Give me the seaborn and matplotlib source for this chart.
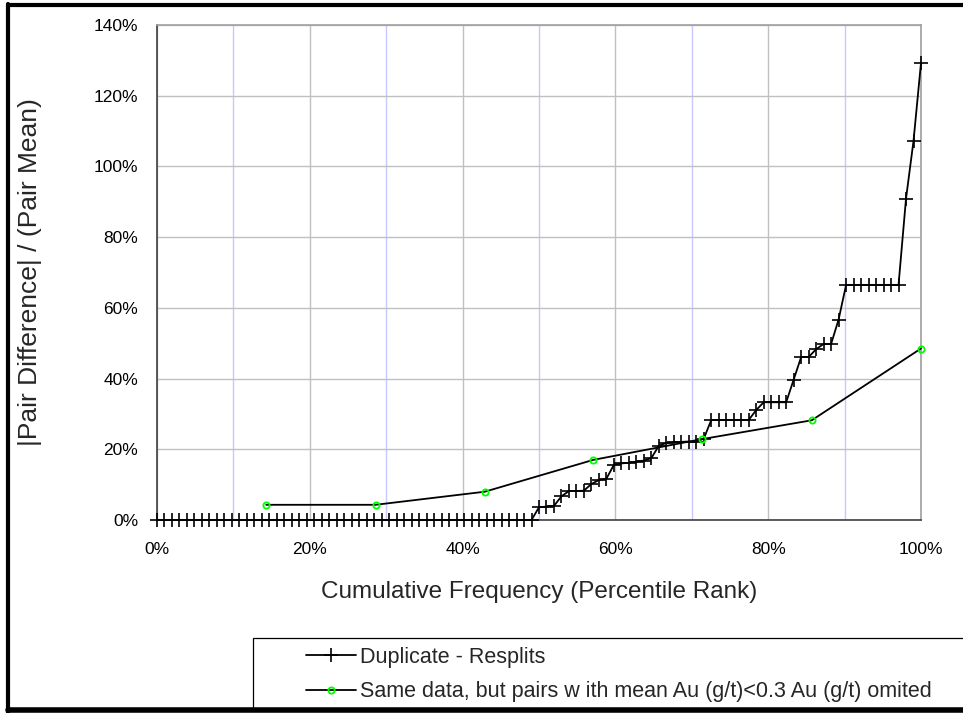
import numpy as np
import pandas as pd
import matplotlib
matplotlib.use("Agg")
import matplotlib.pyplot as plt
import seaborn as sns
from matplotlib.lines import Line2D
from matplotlib.patches import Rectangle
from matplotlib.ticker import MultipleLocator, FuncFormatter

# ---- data ----
resplit_rel_diff = [
    0.0, 0.0, 0.0, 0.0, 0.0, 0.0, 0.0, 0.0, 0.0, 0.0,
    0.0, 0.0, 0.0, 0.0, 0.0, 0.0, 0.0, 0.0, 0.0, 0.0,
    0.0, 0.0, 0.0, 0.0, 0.0, 0.0, 0.0, 0.0, 0.0, 0.0,
    0.0, 0.0, 0.0, 0.0, 0.0, 0.0, 0.0, 0.0, 0.0, 0.0,
    0.0, 0.0, 0.0, 0.0, 0.0, 0.0, 0.0, 0.0, 0.0, 0.0,
    0.0,
    3.6, 3.8, 4.0, 6.7, 8.2, 8.2, 8.3, 10.2, 11.3, 11.7,
    15.6, 16.0, 16.2, 16.5, 16.8, 17.5, 21.0, 21.8, 22.0, 22.1,
    22.2, 22.2, 23.0,
    28.3, 28.3, 28.3, 28.3, 28.3, 28.3,
    31.1, 33.3, 33.3, 33.3, 33.3, 39.7, 46.1, 46.1, 48.3, 49.8,
    49.8, 56.7,
    66.5, 66.5, 66.5, 66.5, 66.5, 66.5, 66.5, 66.5,
    90.9, 107.2, 129.3,
]
# percentile rank of each sorted pair (PERCENTRANK)
n_res = len(resplit_rel_diff)
resplit_rank = [100.0 * i / (n_res - 1) for i in range(n_res)]

omit_rank = [14.3, 28.6, 42.9, 57.1, 71.4, 85.7, 100.0]
omit_rel_diff = [4.3, 4.3, 8.0, 17.0, 22.9, 28.2, 48.5]

series_labels = ["Duplicate - Resplits",
                 "Same data, but pairs w ith mean Au (g/t)<0.3 Au (g/t) omited"]
x_title = "Cumulative Frequency (Percentile Rank)"
y_title = "|Pair Difference| / (Pair Mean)"

df_res = pd.DataFrame({"rank": resplit_rank, "val": resplit_rel_diff})
df_omit = pd.DataFrame({"rank": omit_rank, "val": omit_rel_diff})

# ---- style ----
sns.set_style("white")
plt.rcParams["font.family"] = ["Liberation Sans", "DejaVu Sans"]

W, H = 963, 713
fig = plt.figure(figsize=(W / 100, H / 100), dpi=100)
fig.patch.set_facecolor("white")

L, R, T, B = 157, 921, 25, 520
ax = fig.add_axes([L / W, 1 - B / H, (R - L) / W, (B - T) / H])
ax.set_facecolor("white")

sns.lineplot(data=df_res, x="rank", y="val", ax=ax, color="black",
             linewidth=1.3, marker="+", markersize=9.5, markeredgewidth=1.2,
             markeredgecolor="black", estimator=None, sort=False,
             legend=False, clip_on=False, zorder=3)
sns.lineplot(data=df_omit, x="rank", y="val", ax=ax, color="black",
             linewidth=1.3, marker="o", markersize=4.5, markeredgewidth=1.3,
             markeredgecolor="#00FF00", markerfacecolor="none",
             estimator=None, sort=False, legend=False, clip_on=False, zorder=4)

ax.set_xlim(0, 100)
ax.set_ylim(0, 140)
ax.xaxis.set_major_locator(MultipleLocator(20))
ax.xaxis.set_minor_locator(MultipleLocator(10))
ax.yaxis.set_major_locator(MultipleLocator(20))
pct = FuncFormatter(lambda v, p: f"{v:.0f}%")
ax.xaxis.set_major_formatter(pct)
ax.yaxis.set_major_formatter(pct)

ax.set_axisbelow(True)
ax.grid(which="minor", axis="x", color="#C8C8FF", linewidth=1.0)
ax.grid(which="major", axis="x", color="#C0C0C0", linewidth=1.0)
ax.grid(which="major", axis="y", color="#C0C0C0", linewidth=1.0)

ax.tick_params(axis="both", which="major", direction="out", length=4.5,
               width=1.0, color="#808080", labelsize=12.5, labelcolor="black")
ax.tick_params(axis="x", which="major", pad=11)
ax.tick_params(axis="y", which="major", pad=9)
ax.tick_params(axis="x", which="minor", length=0)

for s in ["left", "bottom"]:
    ax.spines[s].set_color("#404040")
    ax.spines[s].set_linewidth(1.2)
for s in ["top", "right"]:
    ax.spines[s].set_color("#A0A0A0")
    ax.spines[s].set_linewidth(1.2)
    ax.spines[s].set_visible(True)

ax.set_xlabel(x_title, fontsize=17.5)
ax.set_ylabel(y_title, fontsize=19)
ax.xaxis.set_label_coords(0.5, -(592 - B) / (B - T), transform=ax.transAxes)
ax.yaxis.set_label_coords(-(L - 30) / (R - L), 0.5, transform=ax.transAxes)
ax.xaxis.label.set_verticalalignment("center")
ax.yaxis.label.set_verticalalignment("center")

# ---- legend box ----
fig.add_artist(Rectangle((253 / W, 1 - 709 / H), (W + 20 - 253) / W, (709 - 638) / H,
                         transform=fig.transFigure, facecolor="white",
                         edgecolor="black", linewidth=0.9, clip_on=False))
handles = [
    Line2D([0], [0], color="black", linewidth=1.3, marker="+", markersize=9.5,
           markeredgewidth=1.2, markeredgecolor="black"),
    Line2D([0], [0], color="black", linewidth=1.3, marker="o", markersize=4.5,
           markeredgewidth=1.3, markeredgecolor="#00FF00", markerfacecolor="none"),
]
leg = fig.legend(handles, series_labels, loc="upper left",
                 bbox_to_anchor=(306 / W, 1 - 647 / H), frameon=False,
                 fontsize=15.5, handlelength=2.3, handletextpad=0.2,
                 labelspacing=0.62, borderpad=0, borderaxespad=0)

# ---- outer border ----
bw = 3.0
fig.add_artist(Line2D([8 / W, 8 / W], [0, 1 - 4 / H], transform=fig.transFigure,
                      color="black", linewidth=bw))
fig.add_artist(Line2D([8 / W, 1], [1 - 5 / H, 1 - 5 / H], transform=fig.transFigure,
                      color="black", linewidth=bw))
fig.add_artist(Line2D([8 / W, 1], [1 - 710 / H, 1 - 710 / H], transform=fig.transFigure,
                      color="black", linewidth=bw + 1))

fig.savefig("out.png", dpi=100)
